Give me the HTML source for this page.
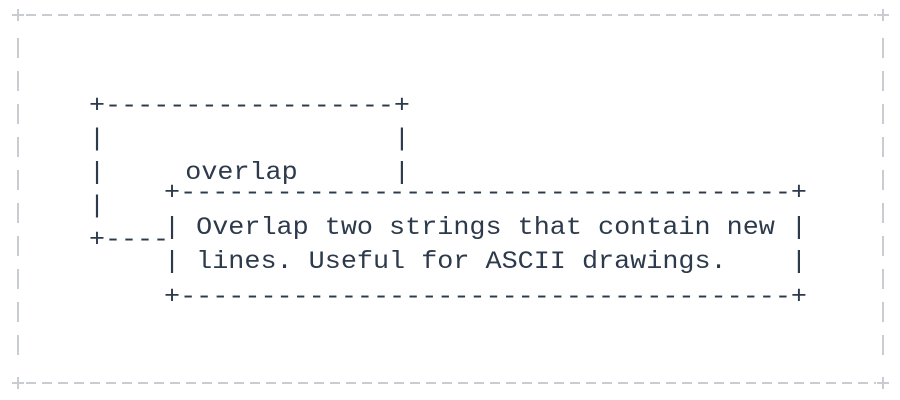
<!DOCTYPE html>
<html><head><meta charset="utf-8"><style>
html,body{margin:0;padding:0;background:#fff;}
svg{display:block;}
text{font-family:"Liberation Mono","DejaVu Sans Mono",monospace;font-size:25px;fill:#2d3a4b;white-space:pre;}
</style></head><body>
<svg width="900" height="400" viewBox="0 0 900 400" xmlns="http://www.w3.org/2000/svg">
<g stroke="#c9cdd2" stroke-width="2" fill="none">
<line x1="26" y1="15" x2="876" y2="15" stroke-dasharray="10 6"/>
<line x1="26" y1="383" x2="876" y2="383" stroke-dasharray="10 6"/>
<line x1="18" y1="38" x2="18" y2="362" stroke-dasharray="20 13"/>
<line x1="883" y1="38" x2="883" y2="362" stroke-dasharray="20 13"/>
<path d="M12 15h12M18 9v12M877 15h12M883 9v12M12 383h12M18 377v12M877 383h12M883 377v12"/>
</g>
<g xml:space="preserve">
<text x="89" y="112" textLength="321" lengthAdjust="spacingAndGlyphs">+------------------+</text>
<text x="89" y="145.5" textLength="321" lengthAdjust="spacingAndGlyphs">|                  |</text>
<text x="89" y="179" textLength="321" lengthAdjust="spacingAndGlyphs">|     overlap      |</text>
<text x="89" y="212.5" textLength="16" lengthAdjust="spacingAndGlyphs">|</text>
<text x="89" y="246" textLength="96" lengthAdjust="spacingAndGlyphs">+-----</text>
</g>
<rect x="166" y="186" width="642" height="114" fill="#fff"/>
<g xml:space="preserve">
<text x="164" y="199" textLength="643" lengthAdjust="spacingAndGlyphs">+--------------------------------------+</text>
<text x="164" y="234" textLength="643" lengthAdjust="spacingAndGlyphs">| Overlap two strings that contain new |</text>
<text x="164" y="268" textLength="643" lengthAdjust="spacingAndGlyphs">| lines. Useful for ASCII drawings.    |</text>
<text x="164" y="303" textLength="643" lengthAdjust="spacingAndGlyphs">+--------------------------------------+</text>
</g>
</svg>
</body></html>
